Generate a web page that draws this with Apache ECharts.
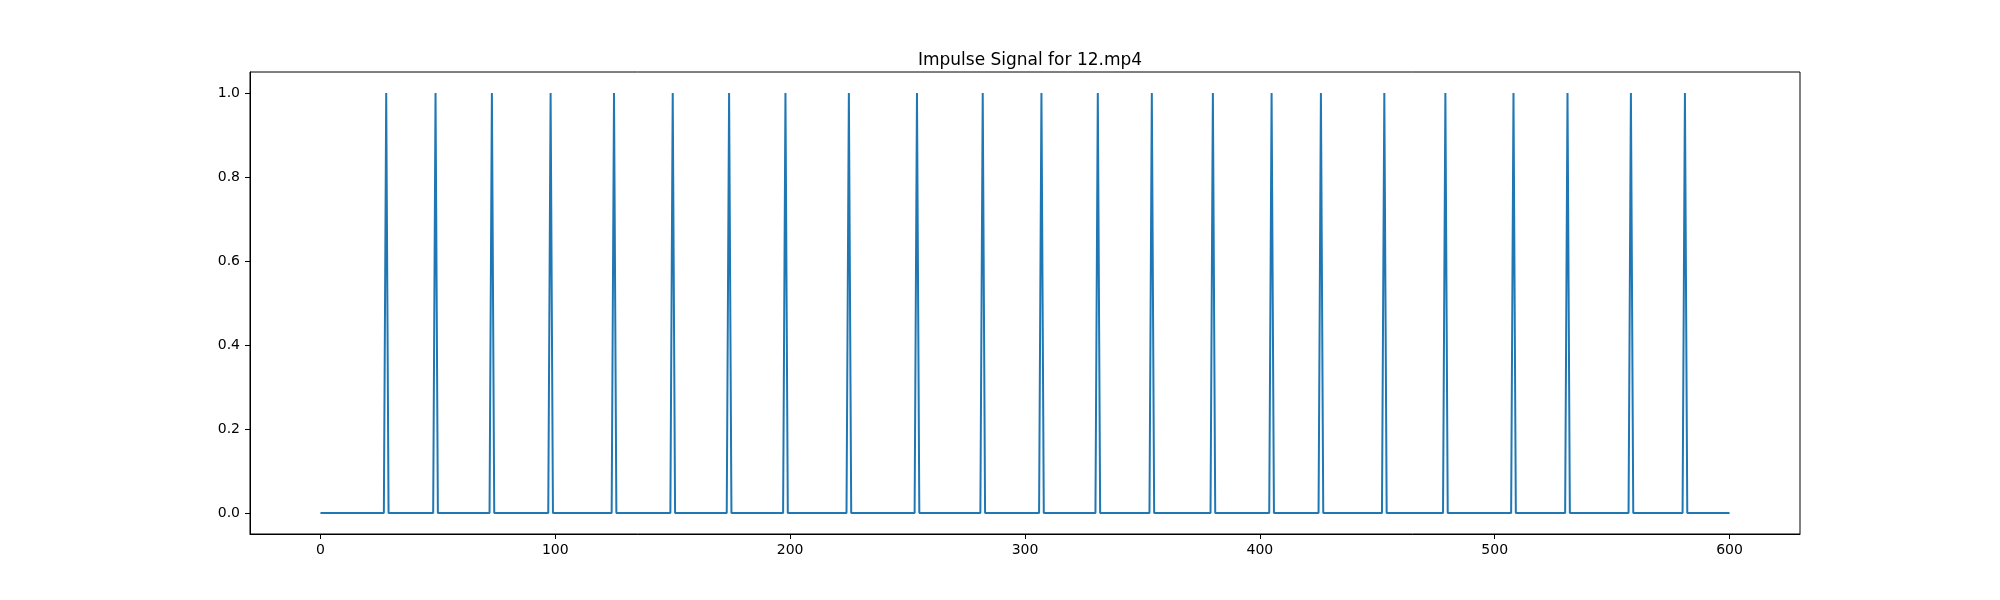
<!DOCTYPE html>
<html>
<head>
<meta charset="utf-8">
<script src="https://cdn.jsdelivr.net/npm/echarts@6/dist/echarts.min.js"></script>
<style>
html,body{margin:0;padding:0;background:#fff;}
#chart{width:2000px;height:600px;}
</style>
</head>
<body>
<div id="chart"></div>
<script>
// Frame indices where the impulse is 1 (all other frames are 0)
const impulseFrames = [28, 49, 73, 98, 125, 150, 174, 198, 225, 254, 282, 307, 331, 354, 380, 405, 426, 453, 479, 508, 531, 558, 581];
const frameCount = 601; // frames 0..600
const xTicks = [0, 100, 200, 300, 400, 500, 600];
const yTicks = [0.0, 0.2, 0.4, 0.6, 0.8, 1.0];
const titleText = 'Impulse Signal for 12.mp4';

const spikeSet = new Set(impulseFrames);
const signal = [];
for (let i = 0; i < frameCount; i++) signal.push([i, spikeSet.has(i) ? 1 : 0]);

const font = 'DejaVu Sans';
const chart = echarts.init(document.getElementById('chart'), null, {renderer: 'canvas'});
chart.setOption({
  animation: false,
  backgroundColor: '#ffffff',
  title: {
    text: titleText,
    left: 1025,
    top: 47,
    textAlign: 'center',
    textStyle: {fontFamily: font, fontSize: 17, fontWeight: 'normal', color: '#000'}
  },
  grid: {
    left: 250, right: 200, top: 72, bottom: 66,
    show: true, borderColor: '#000', borderWidth: 1, backgroundColor: 'transparent'
  },
  xAxis: {
    type: 'value',
    min: -30, max: 630,
    splitLine: {show: false},
    axisLine: {show: true, onZero: false, lineStyle: {color: '#000', width: 1}},
    axisTick: {show: true, customValues: xTicks, length: 5, inside: false, lineStyle: {color: '#000', width: 1}},
    axisLabel: {customValues: xTicks, margin: 9, fontFamily: font, fontSize: 14, color: '#000',
      formatter: v => String(v)}
  },
  yAxis: {
    type: 'value',
    min: -0.05, max: 1.05,
    splitLine: {show: false},
    axisLine: {show: true, onZero: false, lineStyle: {color: '#000', width: 1}},
    axisTick: {show: true, customValues: yTicks, length: 5, inside: false, lineStyle: {color: '#000', width: 1}},
    axisLabel: {customValues: yTicks, margin: 10, fontFamily: font, fontSize: 14, color: '#000',
      formatter: v => Number(v).toFixed(1)}
  },
  series: [{
    type: 'line',
    data: signal,
    showSymbol: false,
    symbol: 'none',
    lineStyle: {color: '#1f77b4', width: 2},
    itemStyle: {color: '#1f77b4'}
  }]
});
</script>
</body>
</html>
